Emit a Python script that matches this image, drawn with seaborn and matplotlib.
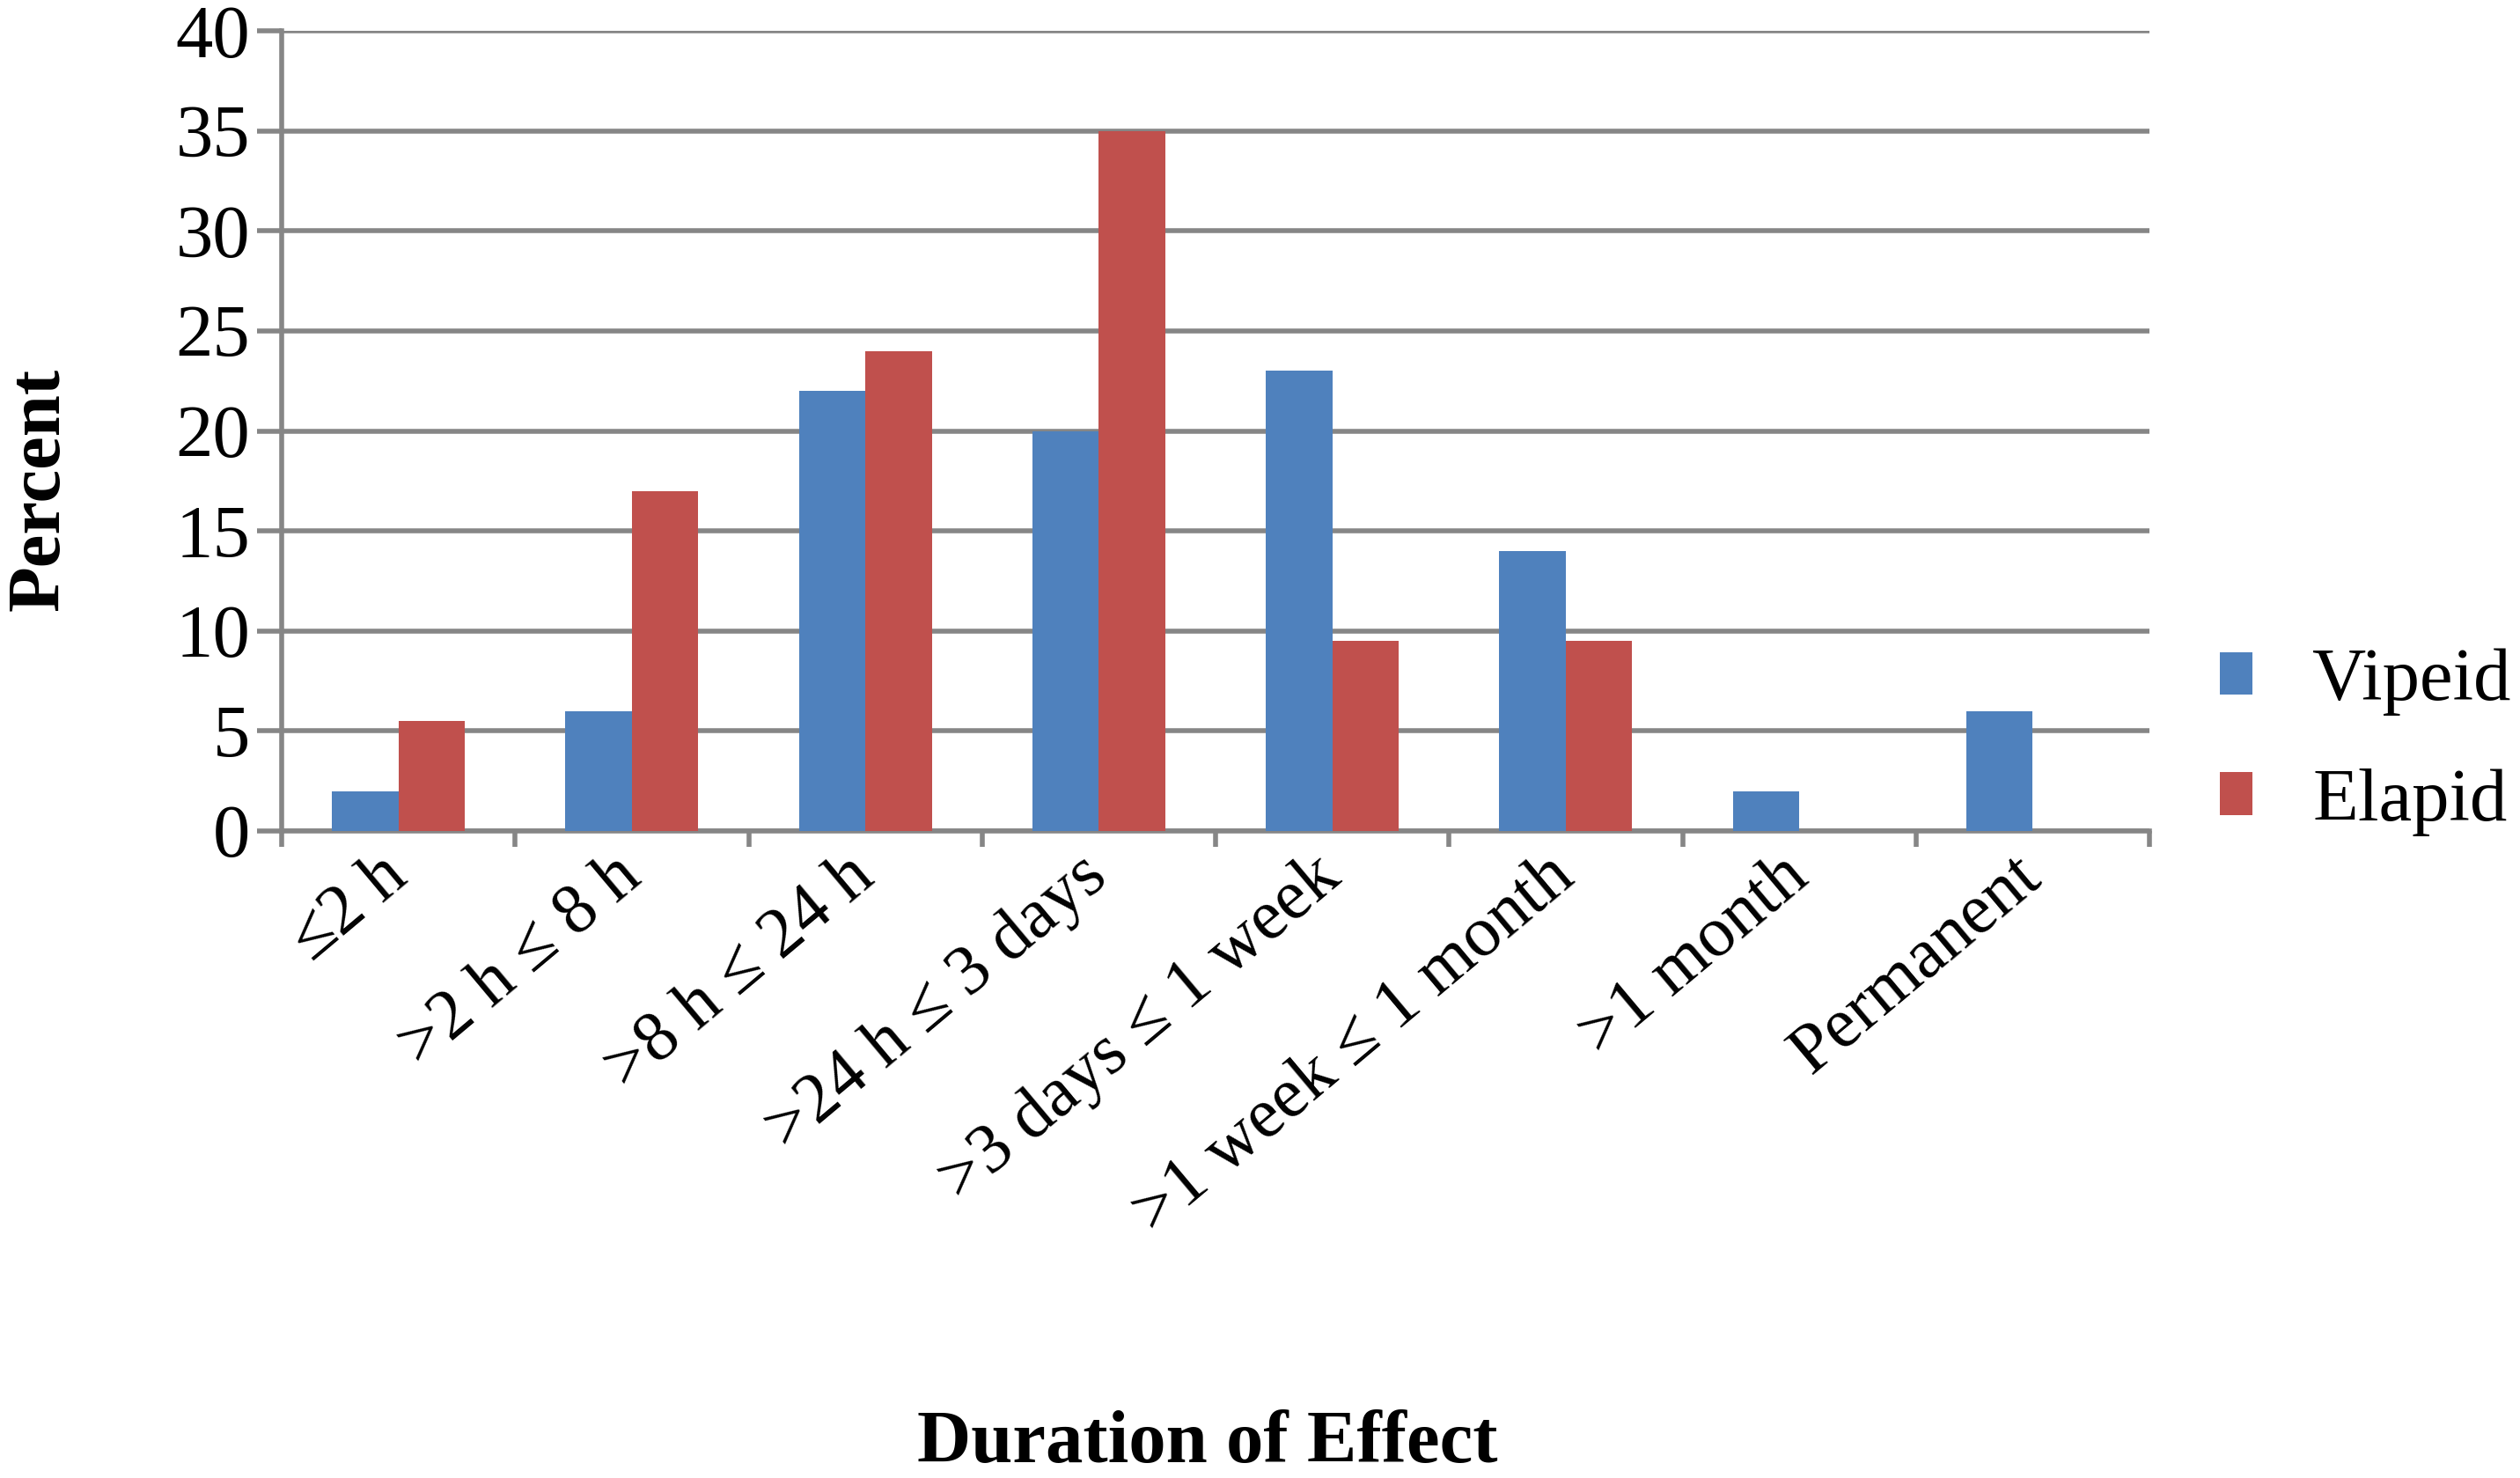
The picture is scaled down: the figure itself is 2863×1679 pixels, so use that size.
import matplotlib
matplotlib.use("Agg")
import matplotlib.pyplot as plt
import seaborn as sns
import pandas as pd
from matplotlib.ticker import MultipleLocator, FixedLocator

categories = ["≤2 h", ">2 h ≤ 8 h", ">8 h ≤ 24 h", ">24 h ≤ 3 days",
              ">3 days ≤ 1 week", ">1 week ≤ 1 month", ">1 month", "Permanent"]
vipeid = [2, 6, 22, 20, 23, 14, 2, 6]
elapid = [5.5, 17, 24, 35, 9.5, 9.5, 0, 0]
series = ["Vipeid", "Elapid"]
colors = ["#4F81BD", "#C0504D"]

df = pd.DataFrame({
    "Duration": categories * 2,
    "Percent": vipeid + elapid,
    "Species": [series[0]] * len(categories) + [series[1]] * len(categories),
})

sns.set_style("white")
plt.rcParams["font.family"] = ["Liberation Serif", "DejaVu Serif"]
plt.rcParams["text.color"] = "black"
plt.rcParams["xtick.labelcolor"] = "black"
plt.rcParams["ytick.labelcolor"] = "black"

FS = 61
GRID = "#868686"

fig = plt.figure(figsize=(28.63, 16.79), dpi=100)
ax = fig.add_axes([320 / 2863, 1 - 944 / 1679, (2442 - 320) / 2863, (944 - 35) / 1679])

sns.barplot(data=df, x="Duration", y="Percent", hue="Species", order=categories,
            hue_order=series, palette=colors, width=0.57, saturation=1,
            dodge=True, ax=ax, zorder=3, linewidth=0)

ax.set_xlim(-0.5, len(categories) - 0.5)
ax.set_ylim(0, 40)
ax.yaxis.set_major_locator(MultipleLocator(5))
ax.grid(axis="y", color=GRID, linewidth=4, zorder=0)
ax.set_axisbelow(True)

for s in ["top", "right"]:
    ax.spines[s].set_visible(False)
for s in ["left", "bottom"]:
    ax.spines[s].set_color(GRID)
    ax.spines[s].set_linewidth(4)

ax.tick_params(axis="y", which="major", direction="out", length=20, width=4,
               color=GRID, labelsize=FS, pad=6, left=True, labelcolor="black")
ax.tick_params(axis="x", which="major", length=0, labelsize=58, pad=30, labelcolor="black")
ax.xaxis.set_minor_locator(FixedLocator([i - 0.5 for i in range(len(categories) + 1)]))
ax.tick_params(axis="x", which="minor", direction="out", length=13, width=4,
               color=GRID, bottom=True)

ax.set_xticks(range(len(categories)))
ax.set_xticklabels(categories, rotation=40, ha="right", rotation_mode="anchor")
for lab in ax.get_xticklabels():
    lab.set_va("center")

ax.set_xlabel("")
ax.set_ylabel("")

fig.text(46 / 2863, 1 - 556 / 1679, "Percent", rotation=90, ha="center", va="center",
         fontsize=FS, fontweight="bold", color="black")
fig.text(1372 / 2863, 1 - 1641 / 1679, "Duration of Effect", ha="center", va="center",
         fontsize=FS, fontweight="bold", color="black")

handles, labels = ax.get_legend_handles_labels()
if ax.get_legend() is not None:
    ax.get_legend().remove()
fig.legend(handles, labels, loc="center left", bbox_to_anchor=(2522 / 2863, 0.498),
           frameon=False, fontsize=FS, handlelength=0.44, handleheight=0.5,
           handletextpad=0.8, labelspacing=0.7, borderpad=0, borderaxespad=0)

fig.savefig("out.png", dpi=100)
